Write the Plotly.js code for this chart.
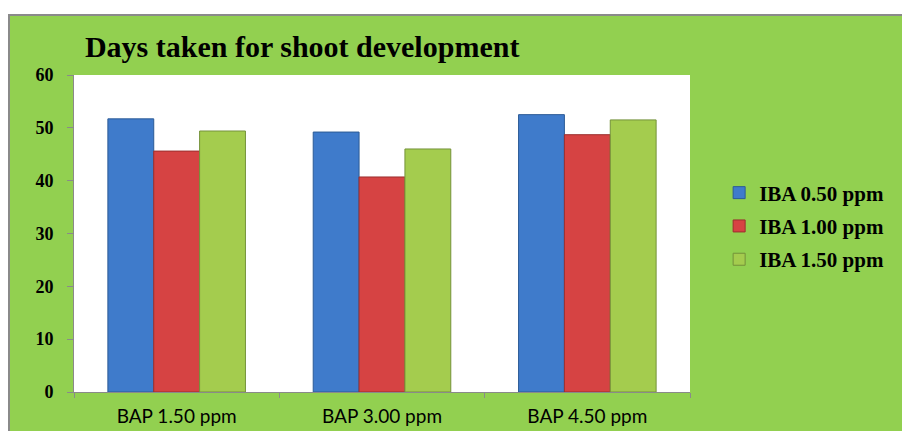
<!DOCTYPE html>
<html>
<head>
<meta charset="utf-8">
<script src="https://cdn.plot.ly/plotly-3.0.1.min.js"></script>
<style>
  html, body { margin: 0; padding: 0; background: #ffffff; width: 902px; height: 431px; overflow: hidden; }
  #chart { position: absolute; left: 8px; top: 14px; width: 892px; height: 415px;
           border-top: 2px solid #8a8a8a; border-left: 2px solid #8a8a8a; }
</style>
</head>
<body>
<div id="chart"></div>
<script>
// Data
const categories = ["BAP 1.50 ppm", "BAP 3.00 ppm", "BAP 4.50 ppm"];
const seriesNames = ["IBA 0.50 ppm", "IBA 1.00 ppm", "IBA 1.50 ppm"];
const iba050 = [51.7, 49.2, 52.5];
const iba100 = [45.6, 40.7, 48.7];
const iba150 = [49.4, 46.0, 51.5];
const yTickVals = [0, 10, 20, 30, 40, 50, 60];

const seriesValues = [iba050, iba100, iba150];
const fillColors = ["#3f7bcb", "#d64343", "#a4cc4e"];
const lineColors = ["#2c5b96", "#9c2f2e", "#74923a"];

const traces = seriesValues.map((vals, i) => ({
  type: "bar",
  name: seriesNames[i],
  x: categories,
  y: vals,
  legendgroup: "g" + i,
  marker: { color: fillColors[i], line: { color: lineColors[i], width: 1 } },
  hoverinfo: "x+y+name"
}));

const serif = "Liberation Serif, Times New Roman, serif";

const layout = {
  width: 892,
  height: 415,
  paper_bgcolor: "#92D050",
  plot_bgcolor: "#ffffff",
  margin: { l: 64, r: 212, t: 59, b: 39 },
  title: {
    text: "<b>Days taken for shoot development</b>",
    font: { family: serif, size: 30, color: "#000000" },
    xref: "container", x: 0.084, xanchor: "left",
    yref: "container", y: 0.927, yanchor: "middle"
  },
  barmode: "group",
  bargap: 0.33,
  bargroupgap: 0,
  xaxis: {
    type: "category",
    showline: true, linecolor: "#8a8a8a", linewidth: 1,
    ticks: "outside", ticklen: 5, tickcolor: "#8a8a8a",
    tickson: "boundaries",
    showgrid: false,
    tickfont: { family: "Lato, Open Sans, sans-serif", size: 19, color: "#000000" },
    ticklabelstandoff: 7
  },
  yaxis: {
    range: [0, 60],
    tickvals: yTickVals,
    showline: true, linecolor: "#8a8a8a", linewidth: 1,
    ticks: "outside", ticklen: 6, tickcolor: "#8a8a8a",
    showgrid: false, zeroline: false,
    tickfont: { family: serif, size: 18, color: "#000000", weight: "bold" },
    ticklabelstandoff: 10
  },
  legend: {
    xref: "container", yref: "container",
    x: 0.795, xanchor: "left",
    y: 0.494, yanchor: "middle",
    bgcolor: "rgba(0,0,0,0)",
    font: { family: serif, size: 21, color: "#000000", weight: "bold" },
    traceorder: "grouped",
    tracegroupgap: 3,
    itemwidth: 30
  },
  showlegend: true
};

Plotly.newPlot("chart", traces, layout, { displayModeBar: false, staticPlot: true });
</script>
</body>
</html>
